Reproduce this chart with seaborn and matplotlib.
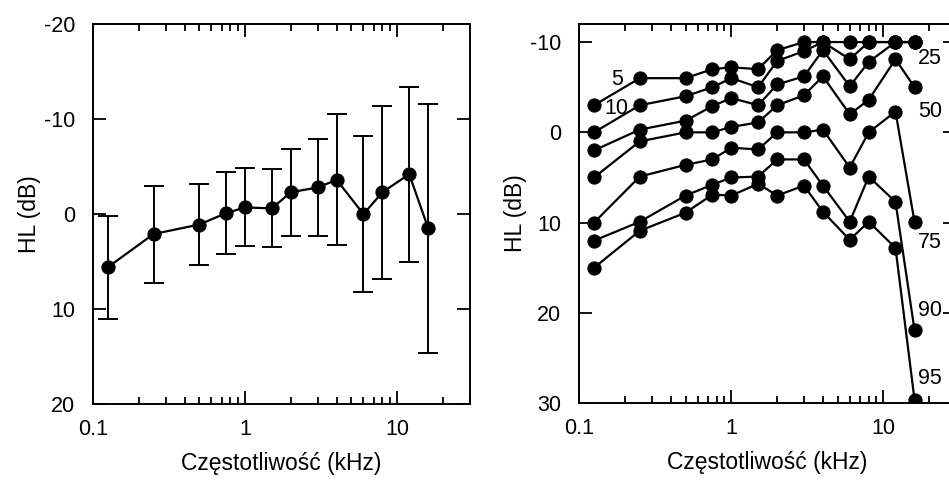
import numpy as np
import matplotlib
matplotlib.use('Agg')
import matplotlib.pyplot as plt
import matplotlib.ticker as mticker
import pandas as pd
import seaborn as sns

# frequencies (kHz)
freqs = [0.125, 0.25, 0.5, 0.75, 1, 1.5, 2, 3, 4, 6, 8, 12, 16]

# left panel: mean HL and spread
hl_mean = [5.6, 2.1, 1.1, -0.1, -0.7, -0.6, -2.3, -2.8, -3.6, 0.0, -2.3, -4.2, 1.5]
hl_sd = [5.4, 5.1, 4.3, 4.3, 4.1, 4.1, 4.6, 5.1, 6.9, 8.2, 9.1, 9.2, 13.1]

# right panel: percentile curves
pct_names = ['5', '10', '25', '50', '75', '90', '95']
p5 = [-3, -6, -6, -7, -7.2, -7, -9.1, -10, -10, -10, -10, -10, -10]
p10 = [0, -3, -4, -5, -6, -5, -7.9, -9, -10, -8.1, -10, -10, -10]
p25 = [2, -0.3, -1.3, -2.9, -3.8, -3, -5.3, -6.2, -9.1, -5.1, -7.8, -10, -10]
p50 = [5, 1, 0, 0, -0.6, -1.1, -3, -4.1, -6.2, -2, -3.6, -8.1, -5]
p75 = [10, 4.9, 3.6, 3, 1.7, 1.9, 0, 0, -0.3, 3.9, 0, -2.3, 9.9]
p90 = [12, 9.9, 7, 5.8, 5, 4.9, 3, 3, 5.9, 9.9, 4.9, 7.7, 21.9]
p95 = [15, 10.9, 8.9, 6.9, 7, 5.7, 7, 5.9, 8.8, 11.9, 9.9, 12.8, 29.6]

# where the percentile names sit (freq, HL)
lab_f = [0.176, 0.176, 20.3, 20.3, 20.3, 20.3, 20.3]
lab_hl = [-5.8, -2.6, -8.2, -2.3, 12.2, 19.7, 27.3]

sns.set_style('ticks')
plt.rcParams['font.family'] = ['Liberation Sans', 'DejaVu Sans']
plt.rcParams['axes.unicode_minus'] = False
plt.rcParams['xtick.direction'] = 'in'
plt.rcParams['ytick.direction'] = 'in'

fig = plt.figure(figsize=(9.49, 4.80), dpi=100)
ax1 = fig.add_axes([0.098, 0.158, 0.397, 0.792])
ax2 = fig.add_axes([0.6104, 0.160, 0.397, 0.790])


def style_axis(ax, ylim, yticks):
    ax.set_xscale('log')
    ax.set_xlim(0.1, 30)
    ax.set_ylim(*ylim)
    ax.xaxis.set_major_locator(mticker.FixedLocator([0.1, 1, 10]))
    ax.xaxis.set_major_formatter(mticker.FixedFormatter(['0.1', '1', '10']))
    ax.xaxis.set_minor_locator(mticker.LogLocator(base=10, subs=np.arange(2, 10), numticks=20))
    ax.xaxis.set_minor_formatter(mticker.NullFormatter())
    ax.set_yticks(yticks)
    ax.tick_params(axis='both', which='major', length=9.4, width=1.3, labelsize=15.5,
                   top=True, right=True, color='black', labelcolor='black')
    ax.tick_params(axis='x', which='major', pad=11)
    ax.tick_params(axis='y', which='major', pad=13)
    ax.tick_params(axis='x', which='minor', length=5.2, width=1.3, top=True, color='black')
    for s in ax.spines.values():
        s.set_linewidth(1.4)
        s.set_color('black')
    ax.set_xlabel('Częstotliwość (kHz)', fontsize=16.5, color='black', labelpad=8)
    ax.set_ylabel('HL (dB)', fontsize=16.5, color='black', labelpad=2)


# left panel
left_df = pd.DataFrame({'f': freqs, 'hl': hl_mean, 'sd': hl_sd})
ax1.errorbar(left_df['f'], left_df['hl'], yerr=left_df['sd'], fmt='none',
             ecolor='black', elinewidth=1.4, capsize=7.5, capthick=1.4)
sns.lineplot(data=left_df, x='f', y='hl', ax=ax1, color='black', linewidth=1.6,
             marker='o', markersize=9.5, markeredgecolor='black', markerfacecolor='black')
style_axis(ax1, (20, -20), [-20, -10, 0, 10, 20])

# right panel
right_df = pd.DataFrame({'f': freqs, '5': p5, '10': p10, '25': p25, '50': p50,
                         '75': p75, '90': p90, '95': p95})
right_long = right_df.melt('f', var_name='pct', value_name='hl')
sns.lineplot(data=right_long, x='f', y='hl', hue='pct', hue_order=pct_names,
             palette=['black'] * len(pct_names), ax=ax2, linewidth=1.6,
             marker='o', markersize=9.5, markeredgecolor='black', legend=False)
style_axis(ax2, (30, -12), [-10, 0, 10, 20, 30])
for name, fx, hy in zip(pct_names, lab_f, lab_hl):
    ax2.text(fx, hy, name, fontsize=15.5, ha='center', va='center', color='black')

fig.savefig('out.png', dpi=100)
